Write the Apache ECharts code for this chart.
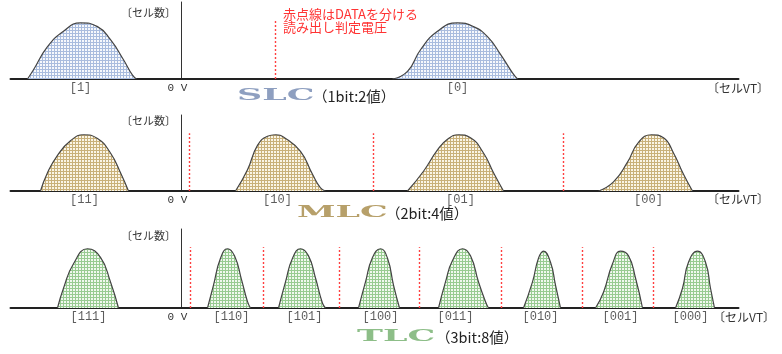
<!DOCTYPE html>
<html><head><meta charset="utf-8">
<script src="https://cdn.jsdelivr.net/npm/echarts@6/dist/echarts.min.js"></script>
<style>html,body{margin:0;padding:0;background:#fff}#c{width:782px;height:354px}</style>
</head><body><div id="c"></div>
<script>
// x = cell threshold voltage (arbitrary units, 0 = 0V); y = relative number of cells (0..100)
// ---- SLC ----
const slcStates = ['[1]', '[0]'];
const slcCenters = [-101, 276];
const slcCurve1 = [[-154,0],[-148,12],[-134,42],[-118,62],[-101,73],[-84,68],[-71,51],[-58,25],[-49,5],[-45,0]];
const slcCurve0 = [[211,0],[226,10],[239,38],[256,62],[276,73],[292,68],[306,55],[319,32],[331,8],[336,0]];
const slcThresholds = [94];
// ---- MLC ----
const mlcStates = ['[11]', '[10]', '[01]', '[00]'];
const mlcCenters = [-97, 96, 279, 467];
const mlcCurve11 = [[-141,0],[-134,24],[-124,47],[-111,66],[-98,74],[-84,69],[-71,50],[-61,24],[-53,0]];
const mlcCurve10 = [[54,0],[66,28],[76,60],[86,72],[94,74],[103,70],[119,52],[131,22],[139,4],[144,0]];
const mlcCurve01 = [[226,0],[242,26],[256,54],[266,68],[277,74],[289,70],[302,50],[312,24],[322,0]];
const mlcCurve00 = [[417,0],[432,12],[446,38],[457,64],[470,74],[482,70],[492,50],[502,22],[511,0]];
const mlcThresholds = [8, 192, 382];
// ---- TLC ----
const tlcStates = ['[111]', '[110]', '[101]', '[100]', '[011]', '[010]', '[001]', '[000]'];
const tlcCenters = [-93, 50, 123, 199, 274, 359, 439, 509];
const tlcCurve111 = [[-124,0],[-118,25],[-108,56],[-94,75],[-81,64],[-71,33],[-63,0]];
const tlcCurve110 = [[26,0],[32,29],[39,63],[46,75],[53,66],[60,36],[66,8],[69,0]];
const tlcCurve101 = [[97,0],[104,33],[111,63],[119,75],[127,66],[134,38],[141,6],[144,0]];
const tlcCurve100 = [[177,0],[184,33],[191,64],[199,75],[206,63],[212,29],[218,0]];
const tlcCurve011 = [[257,0],[264,33],[271,60],[281,75],[289,66],[297,33],[304,8],[307,0]];
const tlcCurve010 = [[342,0],[351,33],[357,63],[362,72],[369,58],[374,29],[379,0]];
const tlcCurve001 = [[414,0],[422,20],[431,56],[439,72],[447,66],[454,38],[461,0]];
const tlcCurve000 = [[494,0],[501,25],[507,58],[516,72],[524,58],[529,25],[533,0]];
const tlcThresholds = [9, 82, 158, 238, 320, 401, 472];
const thresholdTop = [77, 76, 77];

const xMin = -171, xMax = 557;
const jp = '"Noto Sans CJK JP", sans-serif';

function hatch(bg, line) {
  const c = document.createElement('canvas');
  c.width = 3; c.height = 3;
  const g = c.getContext('2d');
  g.fillStyle = bg; g.fillRect(0, 0, 3, 3);
  g.fillStyle = line; g.fillRect(0, 0, 3, 1); g.fillRect(0, 0, 1, 3);
  return { image: c, repeat: 'repeat' };
}
const fills = [hatch('#f6f8fc', '#a9bcde'), hatch('#faf5e6', '#c9b17a'), hatch('#f0f8ee', '#98cb91')];

const grids = [
  { left: 10.5, width: 728, top: 2, height: 77 },
  { left: 10.5, width: 728, top: 115, height: 76 },
  { left: 10.5, width: 728, top: 229, height: 79 }
];
const xAxes = grids.map((g, i) => ({
  type: 'value', gridIndex: i, min: xMin, max: xMax,
  axisLine: { onZero: false, lineStyle: { color: '#222', width: 2 } },
  axisTick: { show: false }, splitLine: { show: false },
  axisLabel: { customValues: [0], formatter: () => '0 V', margin: 4, padding: [0, 8, 0, 0],
    color: '#333', fontSize: 11, fontFamily: '"Liberation Mono", monospace' }
}));
const yAxes = grids.map((g, i) => ({
  type: 'value', gridIndex: i, min: 0, max: 100,
  axisLine: { show: true, onZero: true, lineStyle: { color: '#333', width: 1 } },
  axisTick: { show: false }, axisLabel: { show: false }, splitLine: { show: false }
}));

const panels = [
  { curves: [slcCurve1, slcCurve0], states: slcStates, centers: slcCenters, th: slcThresholds },
  { curves: [mlcCurve11, mlcCurve10, mlcCurve01, mlcCurve00], states: mlcStates, centers: mlcCenters, th: mlcThresholds },
  { curves: [tlcCurve111, tlcCurve110, tlcCurve101, tlcCurve100, tlcCurve011, tlcCurve010, tlcCurve001, tlcCurve000], states: tlcStates, centers: tlcCenters, th: tlcThresholds }
];
const series = [];
panels.forEach((p, i) => {
  p.curves.forEach(c => series.push({
    type: 'line', xAxisIndex: i, yAxisIndex: i, data: c, smooth: 0.5, symbol: 'none',
    lineStyle: { color: '#444', width: 1.2 }, areaStyle: { color: fills[i], opacity: 1 }, silent: true
  }));
  series.push({
    type: 'scatter', xAxisIndex: i, yAxisIndex: i, symbolSize: 0, silent: true,
    data: p.centers.map((x, k) => ({ name: p.states[k], value: [x, 0] })),
    label: { show: true, position: 'bottom', distance: 3, formatter: '{b}', color: '#333',
      fontSize: 12, fontFamily: '"Liberation Mono", monospace' },
    markLine: {
      silent: true, symbol: 'none', label: { show: false },
      lineStyle: { color: '#ff4040', type: [2, 2], width: 1.4, opacity: 1 },
      emphasis: { disabled: true },
      data: p.th.map(t => [{ coord: [t, 0] }, { coord: [t, thresholdTop[i]] }])
    }
  });
});

const titleInfo = [
  { name: 'SLC', sub: '（1bit:2値）', color: '#8e9fc0', x: 237, subX: 313, y: 96 },
  { name: 'MLC', sub: '（2bit:4値）', color: '#b7a06a', x: 297, subX: 386, y: 213 },
  { name: 'TLC', sub: '（3bit:8値）', color: '#8dbe88', x: 357, subX: 436, y: 337 }
];
const graphic = [];
titleInfo.forEach(t => {
  graphic.push({ type: 'text', x: t.x, y: t.y, scaleX: 2.05, style: { text: t.name,
    font: 'bold 17px "DejaVu Serif", serif', fill: t.color, verticalAlign: 'middle' } });
  graphic.push({ type: 'text', x: t.subX, y: t.y, style: { text: t.sub,
    font: '14.5px ' + jp, fill: '#222', verticalAlign: 'middle' } });
});
[13, 121, 236].forEach(y => graphic.push({ type: 'text', x: 176, y: y, style: { text: '〔セル数〕',
  font: '11px ' + jp, fill: '#333', align: 'right', verticalAlign: 'middle' } }));
[[707, 88], [707, 199], [713, 317]].forEach(p => graphic.push({ type: 'text', x: p[0], y: p[1],
  style: { text: '〔セルVT〕', font: '12px ' + jp, fill: '#333', verticalAlign: 'middle' } }));
graphic.push({ type: 'text', x: 283, y: 8, style: { text: '赤点線はDATAを分ける\n読み出し判定電圧',
  font: '13px ' + jp, fill: '#ff3333', lineHeight: 13 } });

const chart = echarts.init(document.getElementById('c'), null, { renderer: 'canvas' });
chart.setOption({
  animation: false, backgroundColor: '#fff',
  grid: grids, xAxis: xAxes, yAxis: yAxes, series: series, graphic: graphic
});
</script></body></html>
